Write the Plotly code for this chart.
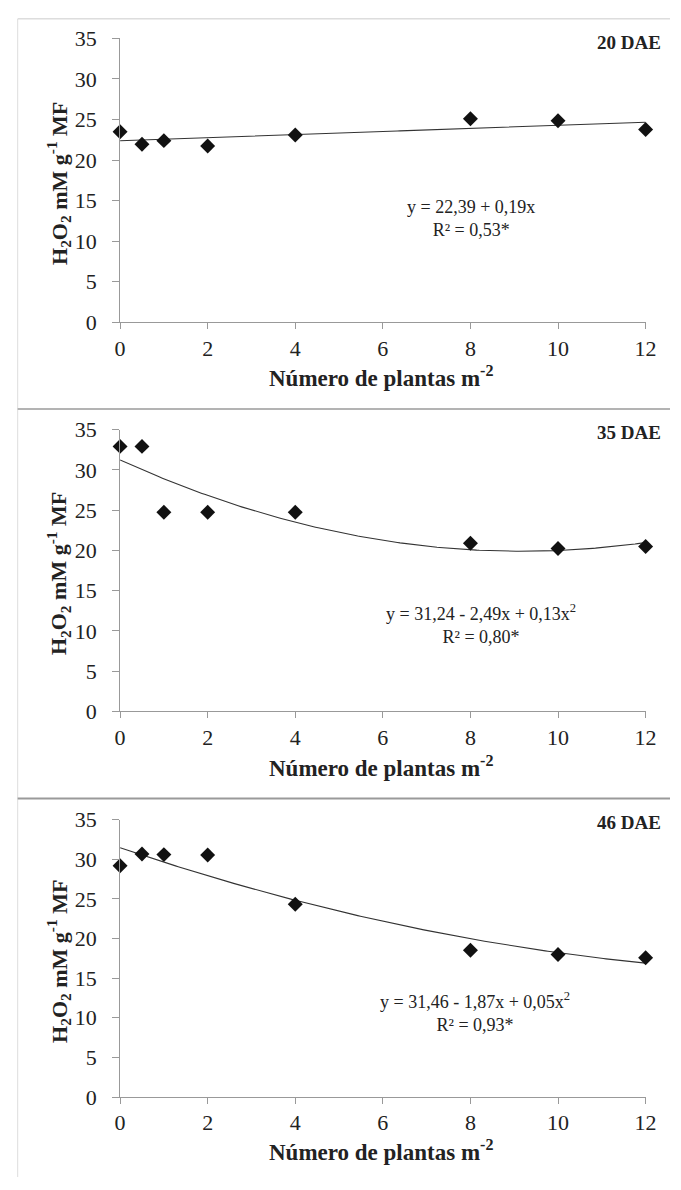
import numpy as np
import plotly.graph_objects as go

# ---- data ----
plant_density = [0, 0.5, 1, 2, 4, 8, 10, 12]
h2o2_20dae = [23.5, 21.95, 22.4, 21.75, 23.1, 25.1, 24.86, 23.77]
h2o2_35dae = [32.93, 32.93, 24.74, 24.74, 24.74, 20.88, 20.23, 20.48]
h2o2_46dae = [29.19, 30.67, 30.59, 30.55, 24.33, 18.53, 17.99, 17.58]

# regression coefficients (a, b, c) for y = a + b x + c x^2
coef_20dae = [22.39, 0.19, 0.0]
coef_35dae = [31.24, -2.475, 0.135]
coef_46dae = [31.46, -1.88, 0.0555]

panel_labels = ["20 DAE", "35 DAE", "46 DAE"]
equations = [
    ("y = 22,39 + 0,19x", "R² = 0,53*"),
    ("y = 31,24 - 2,49x + 0,13x<sup>2</sup>", "R² = 0,80*"),
    ("y = 31,46 - 1,87x + 0,05x<sup>2</sup>", "R² = 0,93*"),
]
x_ticks = [0, 2, 4, 6, 8, 10, 12]
y_ticks = [0, 5, 10, 15, 20, 25, 30, 35]
x_title = "Número de plantas m<sup>-2</sup>"
y_title = "H<sub>2</sub>O<sub>2</sub> mM g<sup>-1</sup> MF"

W, H = 681, 1190
FONT = "Liberation Serif, Times New Roman, Times, serif"

def px(x):
    return x / W

def py(y):
    return 1 - y / H

# pixel geometry of each panel: (y of 35, y of 0)
panels_px = [(27, 317), (426.7, 714.3), (825, 1108.3)]
x_left, x_right = 117, 656
eq_pos = [(477, 211), (487, 625), (481, 1021)]
dae_y = [31, 430, 828]
xtitle_y = [372, 771, 1163]

fig = go.Figure()
series = [h2o2_20dae, h2o2_35dae, h2o2_46dae]
coefs = [coef_20dae, coef_35dae, coef_46dae]
xs = np.linspace(0, 12, 200)

for i in range(3):
    suffix = "" if i == 0 else str(i + 1)
    a, b, c = coefs[i]
    fig.add_trace(go.Scatter(
        x=xs, y=a + b * xs + c * xs ** 2, mode="lines",
        line=dict(color="#333333", width=1.1),
        xaxis="x" + suffix, yaxis="y" + suffix, showlegend=False,
        hoverinfo="skip", cliponaxis=False))
    fig.add_trace(go.Scatter(
        x=plant_density, y=series[i], mode="markers",
        marker=dict(symbol="diamond", size=11.5, color="#111111"),
        xaxis="x" + suffix, yaxis="y" + suffix, showlegend=False,
        cliponaxis=False))

    top, bot = panels_px[i]
    xa = dict(domain=[px(x_left), px(x_right)], range=[0, 12],
              tickvals=x_ticks, ticks="outside", ticklen=6, tickcolor="#999999",
              showline=True, linecolor="#999999", linewidth=1,
              showgrid=False, zeroline=False,
              tickfont=dict(family=FONT, size=22, color="#222222"),
              anchor="y" + suffix, fixedrange=True)
    ya = dict(domain=[py(bot), py(top)], range=[0, 35],
              tickvals=y_ticks, ticks="outside", ticklen=7, tickcolor="#999999",
              showline=True, linecolor="#999999", linewidth=1,
              showgrid=False, zeroline=False, ticklabelstandoff=11,
              tickfont=dict(family=FONT, size=22, color="#222222"),
              anchor="x" + suffix, fixedrange=True)
    fig.layout["xaxis" + suffix] = xa
    fig.layout["yaxis" + suffix] = ya

    # axis titles
    fig.add_annotation(x=px((265 + 505) / 2), y=py(xtitle_y[i]), xref="paper", yref="paper",
                       text="<b>" + x_title + "</b>", showarrow=False,
                       font=dict(family=FONT, size=23, color="#222222"),
                       xanchor="center", yanchor="middle")
    fig.add_annotation(x=px(54), y=py((top + bot) / 2 + 3), xref="paper", yref="paper",
                       text="<b>" + y_title + "</b>", showarrow=False, textangle=-90,
                       font=dict(family=FONT, size=22, color="#222222"),
                       xanchor="center", yanchor="middle")
    # panel label
    fig.add_annotation(x=px(674), y=py(dae_y[i]), xref="paper", yref="paper",
                       text="<b>" + panel_labels[i] + "</b>", showarrow=False,
                       font=dict(family=FONT, size=19, color="#222222"),
                       xanchor="right", yanchor="middle")
    # equation (two centred lines)
    ex, ey = eq_pos[i]
    fig.add_annotation(x=px(ex), y=py(ey), xref="paper", yref="paper",
                       text=equations[i][0] + "<br>" + equations[i][1], showarrow=False,
                       align="center",
                       font=dict(family=FONT, size=18, color="#222222"),
                       xanchor="center", yanchor="middle")

# frame lines
shapes = [
    dict(type="line", xref="paper", yref="paper", x0=px(12), x1=px(12), y0=py(7), y1=py(1190),
         line=dict(color="#dddddd", width=1)),
    dict(type="line", xref="paper", yref="paper", x0=px(12), x1=1, y0=py(7), y1=py(7),
         line=dict(color="#cccccc", width=1)),
    dict(type="line", xref="paper", yref="paper", x0=px(12), x1=1, y0=py(405.5), y1=py(405.5),
         line=dict(color="#9a9a9a", width=1.5)),
    dict(type="line", xref="paper", yref="paper", x0=px(12), x1=1, y0=py(803.5), y1=py(803.5),
         line=dict(color="#9a9a9a", width=2)),
]
fig.update_layout(shapes=shapes, width=W, height=H,
                  margin=dict(l=0, r=0, t=0, b=0),
                  paper_bgcolor="white", plot_bgcolor="white",
                  showlegend=False)

fig.write_html("out.html", config={"displayModeBar": False})
